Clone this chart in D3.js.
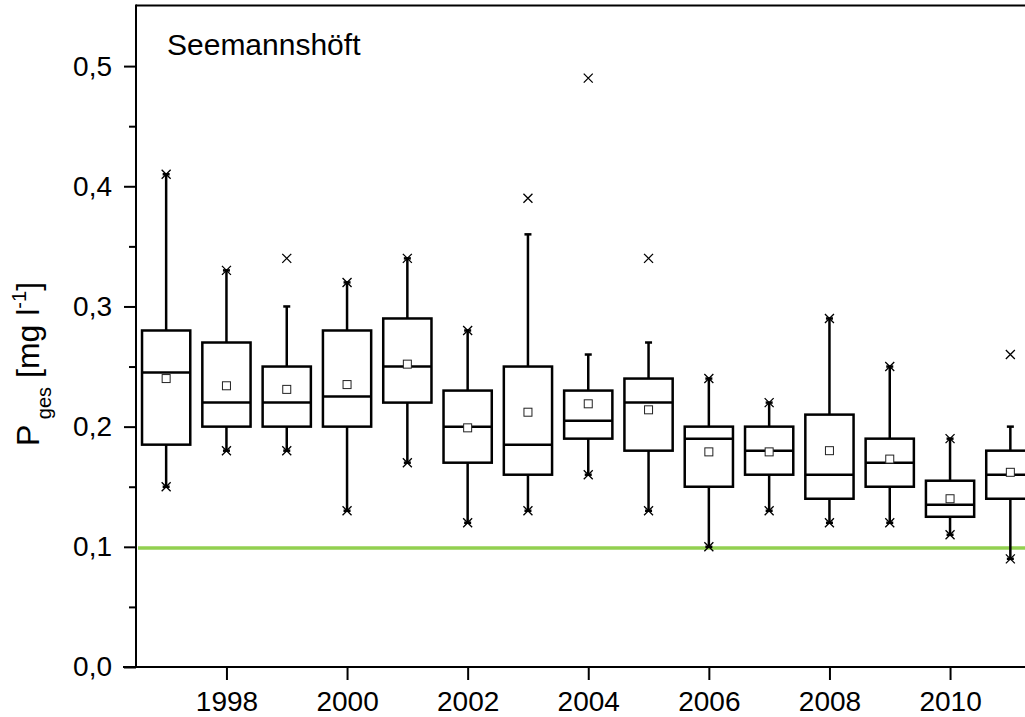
<!DOCTYPE html>
<html>
<head>
<meta charset="utf-8">
<script src="https://cdn.jsdelivr.net/npm/d3@7"></script>
<style>
  html, body { margin: 0; padding: 0; background: #fff; }
  svg { display: block; font-family: "Liberation Sans", Arial, sans-serif; }
</style>
</head>
<body>
<svg id="chart" width="1025" height="717"></svg>
<script>
// Annual distribution of total phosphorus at Seemannshöft
const years       = [1997, 1998, 1999, 2000, 2001, 2002, 2003, 2004, 2005, 2006, 2007, 2008, 2009, 2010, 2011];
const q1          = [0.185, 0.20, 0.20, 0.20, 0.22, 0.17, 0.16, 0.19, 0.18, 0.15, 0.16, 0.14, 0.15, 0.125, 0.14];
const median      = [0.245, 0.22, 0.22, 0.225, 0.25, 0.20, 0.185, 0.205, 0.22, 0.19, 0.18, 0.16, 0.17, 0.135, 0.16];
const q3          = [0.28, 0.27, 0.25, 0.28, 0.29, 0.23, 0.25, 0.23, 0.24, 0.20, 0.20, 0.21, 0.19, 0.155, 0.18];
const mean        = [0.240, 0.234, 0.231, 0.235, 0.252, 0.199, 0.212, 0.219, 0.214, 0.179, 0.179, 0.180, 0.173, 0.140, 0.162];
const whiskerLow  = [0.15, 0.18, 0.18, 0.13, 0.17, 0.12, 0.13, 0.16, 0.13, 0.10, 0.13, 0.12, 0.12, 0.11, 0.09];
const whiskerHigh = [0.41, 0.33, 0.30, 0.32, 0.34, 0.28, 0.36, 0.26, 0.27, 0.24, 0.22, 0.29, 0.25, 0.19, 0.20];
const maxima      = [0.41, 0.33, 0.34, 0.32, 0.34, 0.28, 0.39, 0.49, 0.34, 0.24, 0.22, 0.29, 0.25, 0.19, 0.26];
const minima      = [0.15, 0.18, 0.18, 0.13, 0.17, 0.12, 0.13, 0.16, 0.13, 0.10, 0.13, 0.12, 0.12, 0.11, 0.09];
const targetValue = 0.099;
const yTicks      = [0, 0.1, 0.2, 0.3, 0.4, 0.5];
const yMinorTicks = [0.05, 0.15, 0.25, 0.35, 0.45];
const xTicks      = [1998, 2000, 2002, 2004, 2006, 2008, 2010];
const stationName = "Seemannshöft";

(function () {
  const rows = years.map((yr, i) => ({
    year: yr, q1: q1[i], med: median[i], q3: q3[i], mean: mean[i],
    lo: whiskerLow[i], hi: whiskerHigh[i], max: maxima[i], min: minima[i]
  }));

  const svg = d3.select("#chart");
  const plotLeft = 136, plotBottom = 667, plotTop = 6;
  const tickFont = 28;

  const x = d3.scaleLinear().domain([1996.5, 2012.5]).range([plotLeft, plotLeft + 16 * 60.3]);
  const y = d3.scaleLinear().domain([0, 0.55]).range([plotBottom, plotTop]);

  const boxW = x(1997.4) - x(1996.6);
  const fmt = d => d3.format(".1f")(d).replace(".", ",");

  // frame: top line
  svg.append("line")
    .attr("x1", plotLeft).attr("x2", 1025).attr("y1", plotTop - 0.5).attr("y2", plotTop - 0.5)
    .attr("stroke", "#000").attr("stroke-width", 2);

  // target line
  svg.append("line")
    .attr("x1", plotLeft + 2).attr("x2", 1025)
    .attr("y1", y(targetValue)).attr("y2", y(targetValue))
    .attr("stroke", "#92d050").attr("stroke-width", 3.5);

  // boxes
  const g = svg.append("g").attr("class", "boxes");
  const box = g.selectAll("g.box").data(rows).join("g").attr("class", "box");

  const sw = 2.5;
  // whiskers
  box.append("line")
    .attr("x1", d => x(d.year)).attr("x2", d => x(d.year))
    .attr("y1", d => y(d.q3)).attr("y2", d => y(d.hi))
    .attr("stroke", "#000").attr("stroke-width", sw);
  box.append("line")
    .attr("x1", d => x(d.year)).attr("x2", d => x(d.year))
    .attr("y1", d => y(d.q1)).attr("y2", d => y(d.lo))
    .attr("stroke", "#000").attr("stroke-width", sw);
  // whisker caps
  box.append("line")
    .attr("x1", d => x(d.year) - 3.5).attr("x2", d => x(d.year) + 3.5)
    .attr("y1", d => y(d.hi)).attr("y2", d => y(d.hi))
    .attr("stroke", "#000").attr("stroke-width", sw);
  box.append("line")
    .attr("x1", d => x(d.year) - 3.5).attr("x2", d => x(d.year) + 3.5)
    .attr("y1", d => y(d.lo)).attr("y2", d => y(d.lo))
    .attr("stroke", "#000").attr("stroke-width", sw);
  // box body
  box.append("rect")
    .attr("x", d => x(d.year) - boxW / 2).attr("width", boxW)
    .attr("y", d => y(d.q3)).attr("height", d => y(d.q1) - y(d.q3))
    .attr("fill", "#fff").attr("stroke", "#000").attr("stroke-width", sw);
  // median
  box.append("line")
    .attr("x1", d => x(d.year) - boxW / 2).attr("x2", d => x(d.year) + boxW / 2)
    .attr("y1", d => y(d.med)).attr("y2", d => y(d.med))
    .attr("stroke", "#000").attr("stroke-width", sw);
  // mean marker
  box.append("rect")
    .attr("x", d => x(d.year) - 4).attr("y", d => y(d.mean) - 4)
    .attr("width", 8).attr("height", 8)
    .attr("fill", "#fff").attr("stroke", "#222").attr("stroke-width", 1);

  // min / max crosses
  const cross = (sel, key) => sel.append("path")
    .attr("d", d => {
      const cx = x(d.year), cy = y(d[key]), r = 4.5;
      return `M${cx - r},${cy - r}L${cx + r},${cy + r}M${cx - r},${cy + r}L${cx + r},${cy - r}`;
    })
    .attr("stroke", "#000").attr("stroke-width", 1.3).attr("fill", "none");
  cross(box, "max");
  cross(box, "min");

  // y axis
  const yAxis = svg.append("g").attr("transform", `translate(${plotLeft},0)`)
    .call(d3.axisLeft(y).tickValues(yTicks).tickFormat(fmt).tickSize(12).tickPadding(12));
  yAxis.select(".domain").remove();
  svg.append("line")
    .attr("x1", plotLeft).attr("x2", plotLeft).attr("y1", plotTop - 1.5).attr("y2", plotBottom + 1)
    .attr("stroke", "#000").attr("stroke-width", 2);
  svg.append("g").attr("transform", `translate(${plotLeft},0)`)
    .call(d3.axisLeft(y).tickValues(yMinorTicks).tickFormat("").tickSize(7))
    .select(".domain").remove();

  // x axis
  const xAxis = svg.append("g").attr("transform", `translate(0,${plotBottom})`)
    .call(d3.axisBottom(x).tickValues(xTicks).tickFormat(d3.format("d")).tickSize(13).tickPadding(11));
  xAxis.select(".domain").remove();
  svg.append("line")
    .attr("x1", plotLeft - 13).attr("x2", 1025).attr("y1", plotBottom).attr("y2", plotBottom)
    .attr("stroke", "#000").attr("stroke-width", 2);

  svg.selectAll(".tick line").attr("stroke", "#000").attr("stroke-width", 2);
  svg.selectAll(".tick text")
    .attr("font-family", "'Liberation Sans', Arial, sans-serif")
    .attr("font-size", tickFont).attr("fill", "#000");

  // station label
  svg.append("text")
    .attr("x", 167).attr("y", 55)
    .attr("font-size", 30).attr("fill", "#000")
    .text(stationName);

  // y axis title
  const yt = svg.append("text")
    .attr("transform", "translate(39,364) rotate(-90)")
    .attr("text-anchor", "middle")
    .attr("font-size", 32).attr("fill", "#000");
  yt.append("tspan").text("P");
  yt.append("tspan").attr("font-size", 20).attr("dy", 12).text(" ges");
  yt.append("tspan").attr("dy", -12).text(" [mg l");
  yt.append("tspan").attr("font-size", 20).attr("dy", -13).text("-1");
  yt.append("tspan").attr("dy", 13).text("]");
})();
</script>
</body>
</html>
